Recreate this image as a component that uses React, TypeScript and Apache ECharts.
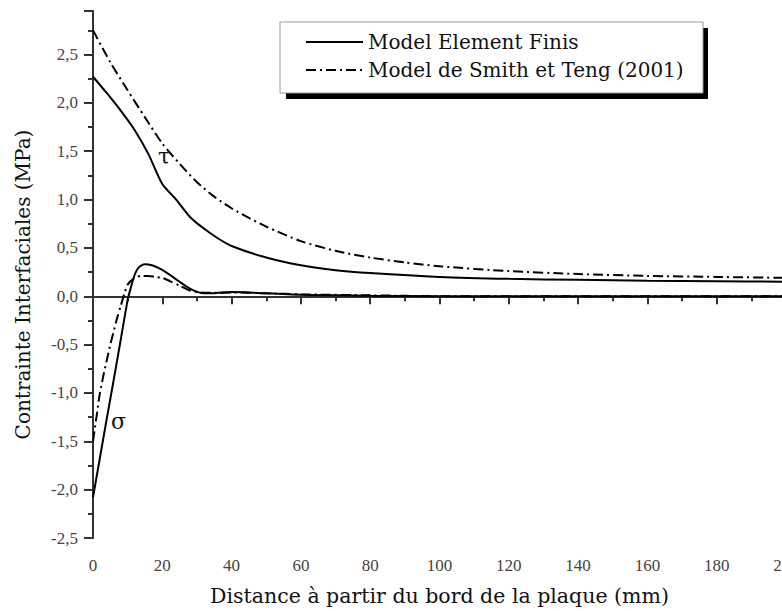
import React, { useEffect, useRef } from "react";
import * as echarts from "echarts";

// Model Element Finis — shear stress τ
const xTauFE = [0, 4, 8, 12, 16, 20, 24, 28, 32, 36, 40, 50, 60, 70, 80, 100, 120, 140, 160, 180, 200];
const tauFE = [2.27, 2.1, 1.92, 1.72, 1.47, 1.16, 1.0, 0.82, 0.7, 0.6, 0.52, 0.4, 0.32, 0.27, 0.24, 0.2, 0.18, 0.17, 0.16, 0.155, 0.15];

// Model de Smith et Teng (2001) — shear stress τ
const xTauST = [0, 5, 10, 15, 20, 25, 30, 35, 40, 45, 50, 60, 70, 80, 90, 100, 120, 140, 160, 180, 200];
const tauST = [2.75, 2.42, 2.13, 1.85, 1.58, 1.37, 1.18, 1.03, 0.91, 0.81, 0.72, 0.57, 0.47, 0.4, 0.35, 0.31, 0.26, 0.23, 0.21, 0.2, 0.19];

// Model Element Finis — normal stress σ
const xSigFE = [0, 2, 4, 6, 8, 10, 11, 12, 13, 14, 15, 17, 19, 21, 23, 25, 27, 29, 31, 33, 36, 40, 45, 50, 60, 70, 80, 100, 150, 200];
const sigFE = [-2.08, -1.67, -1.26, -0.86, -0.45, -0.04, 0.1, 0.22, 0.29, 0.32, 0.33, 0.32, 0.29, 0.25, 0.2, 0.15, 0.1, 0.06, 0.035, 0.03, 0.035, 0.045, 0.04, 0.03, 0.015, 0.01, 0.005, 0.0, 0.0, 0.0];

// Model de Smith et Teng (2001) — normal stress σ
const xSigST = [0, 1, 2, 3, 4, 5, 6, 7, 8, 9, 10, 12, 14, 16, 18, 20, 22, 25, 28, 31, 35, 40, 50, 60, 80, 100, 150, 200];
const sigST = [-1.5, -1.25, -1.0, -0.82, -0.66, -0.5, -0.36, -0.22, -0.1, 0.02, 0.12, 0.19, 0.21, 0.21, 0.2, 0.19, 0.16, 0.11, 0.06, 0.04, 0.035, 0.04, 0.03, 0.02, 0.01, 0.0, 0.0, 0.0];

const seriesNames = ["Model Element Finis", "Model de Smith et Teng (2001)"];
const xAxisTitle = "Distance à partir du bord de la plaque (mm)";
const yAxisTitle = "Contrainte Interfaciales (MPa)";

const zip = (xs: number[], ys: number[]) => xs.map((x, i) => [x, ys[i]]);

const TITLE_FONT = "DejaVu Serif";
const TICK_FONT = "Liberation Serif";
const DASHDOT = [10, 4, 2, 4];

export default function App() {
  const ref = useRef<HTMLDivElement>(null);
  useEffect(() => {
    if (!ref.current) return;
    const chart = echarts.init(ref.current, undefined, { renderer: "svg" });
    const lineBase = (name: string, data: number[][], dashed: boolean) => ({
      type: "line",
      name,
      data,
      showSymbol: false,
      symbol: "none",
      smooth: 0.25,
      lineStyle: { color: "#000", width: 2, type: dashed ? DASHDOT : "solid" },
      itemStyle: { color: "#000" },
      z: 3,
    });
    chart.setOption({
      animation: false,
      backgroundColor: "#fff",
      grid: { left: 93, right: -4, top: 11, bottom: 73, containLabel: false, outerBoundsMode: "none" },
      xAxis: {
        type: "value",
        min: 0,
        max: 200,
        interval: 20,
        name: xAxisTitle,
        nameLocation: "middle",
        nameGap: 47,
        nameTextStyle: { fontFamily: TITLE_FONT, fontSize: 20.5, color: "#111" },
        axisLine: { show: true, lineStyle: { color: "#333", width: 2 } },
        axisTick: { show: true, inside: false, length: 8, lineStyle: { color: "#333", width: 2 } },
        minorTick: { show: true, splitNumber: 2, length: 5, lineStyle: { color: "#333", width: 2 } },
        axisLabel: { fontFamily: TICK_FONT, fontSize: 17, color: "#444", margin: 19 },
        splitLine: { show: false },
      },
      yAxis: {
        type: "value",
        min: -2.5,
        max: 2.95,
        interval: 0.5,
        name: yAxisTitle,
        nameLocation: "middle",
        nameGap: 60,
        nameTextStyle: { fontFamily: TITLE_FONT, fontSize: 20, color: "#111", padding: [0, 20, 0, 0] },
        axisLine: { show: true, lineStyle: { color: "#333", width: 2 } },
        axisTick: { show: true, inside: false, length: 9, lineStyle: { color: "#333", width: 2 } },
        minorTick: { show: true, splitNumber: 2, length: 5, lineStyle: { color: "#333", width: 2 } },
        axisLabel: {
          fontFamily: TICK_FONT,
          fontSize: 17,
          color: "#444",
          margin: 15,
          formatter: (v: number) =>
            Math.abs(v * 2 - Math.round(v * 2)) < 1e-6 && v < 2.9 ? v.toFixed(1).replace(".", ",") : "",
        },
        splitLine: { show: false },
      },
      legend: {
        show: true,
        orient: "vertical",
        left: 305,
        top: 31,
        padding: 0,
        itemWidth: 57,
        itemHeight: 14,
        itemGap: 6,
        data: seriesNames,
        itemStyle: { opacity: 0 },
        textStyle: { fontFamily: TITLE_FONT, fontSize: 20, color: "#111", lineHeight: 22 },
        z: 10,
      },
      graphic: [
        { type: "rect", shape: { x: 286, y: 28, width: 422, height: 71 }, style: { fill: "#000" }, z: 5 },
        {
          type: "rect",
          shape: { x: 280, y: 22, width: 423, height: 71 },
          style: { fill: "#fff", stroke: "#999", lineWidth: 1 },
          z: 6,
        },
        { type: "text", x: 158, y: 145, style: { text: "τ", fontFamily: TITLE_FONT, fontSize: 22, fill: "#111" }, z: 7 },
        { type: "text", x: 111, y: 410, style: { text: "σ", fontFamily: TITLE_FONT, fontSize: 22, fill: "#111" }, z: 7 },
      ],
      series: [
        lineBase(seriesNames[0], zip(xTauFE, tauFE), false),
        lineBase(seriesNames[1], zip(xTauST, tauST), true),
        lineBase(seriesNames[0], zip(xSigFE, sigFE), false),
        lineBase(seriesNames[1], zip(xSigST, sigST), true),
      ],
    });
    return () => chart.dispose();
  }, []);
  return <div ref={ref} style={{ width: 782, height: 611, position: "absolute", left: 0, top: 0 }} />;
}
